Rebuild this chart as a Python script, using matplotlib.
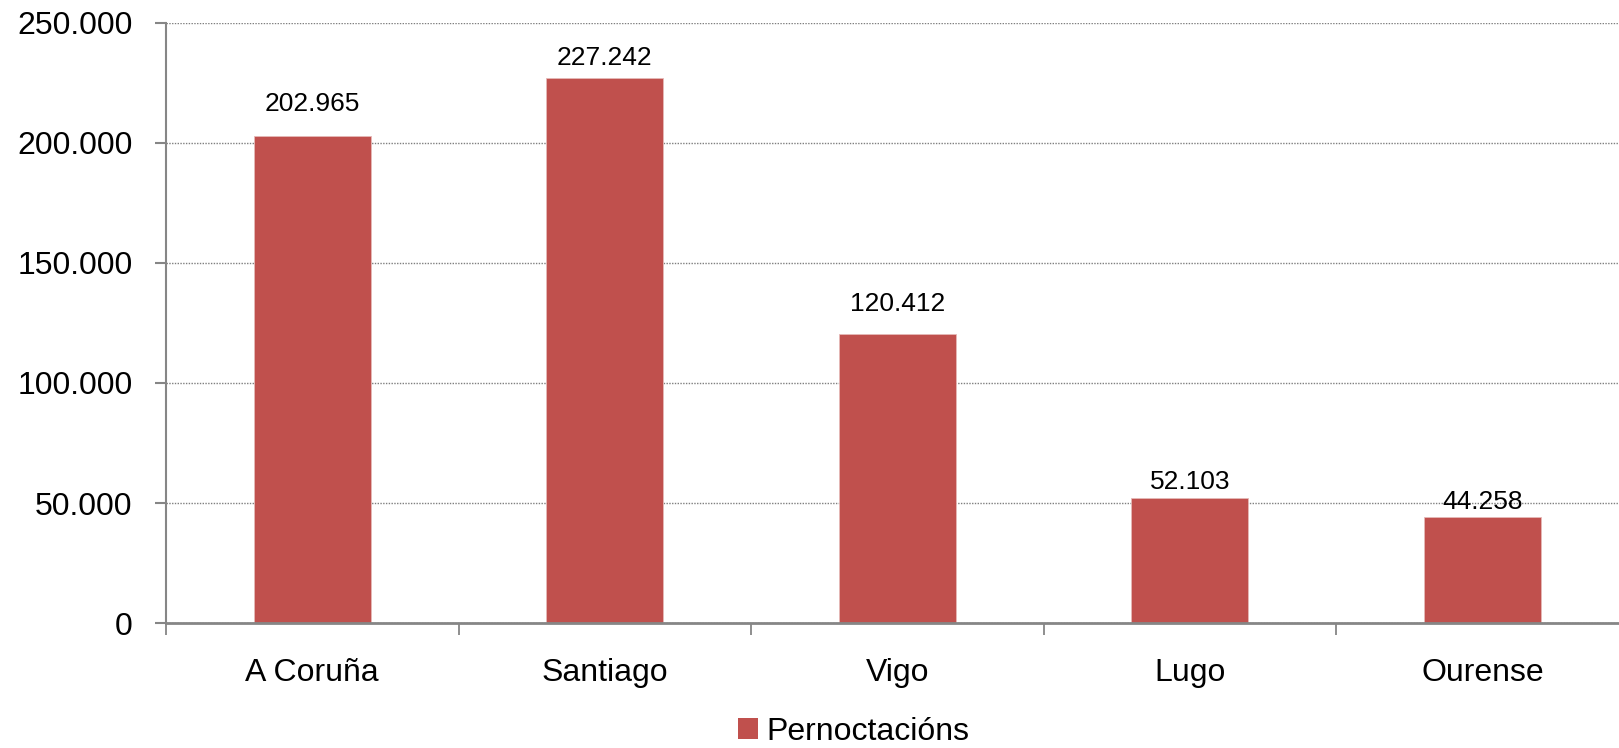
import numpy as np
import matplotlib.pyplot as plt
from matplotlib.patches import Patch
from matplotlib.ticker import FuncFormatter, FixedLocator

# data
cities = ['A Coruña', 'Santiago', 'Vigo', 'Lugo', 'Ourense']
pernoctacions = [202965, 227242, 120412, 52103, 44258]
y_ticks = [0, 50000, 100000, 150000, 200000, 250000]

# label offsets above bar top (points), excel places them unevenly
label_offsets = [18, 9.4, 16.5, 6.5, 5.8]

bar_color = '#C0504D'
axis_color = '#868686'

plt.rcParams['font.family'] = ['Liberation Sans', 'DejaVu Sans']

fig = plt.figure(figsize=(16.19, 7.48), dpi=100)
ax = fig.add_axes([0.1025, 0.1671, 0.9035, 0.8022])

x = np.arange(len(cities))
bars = ax.bar(x, pernoctacions, width=0.4, color=bar_color,
              edgecolor='#E6B9B8', linewidth=0.6, zorder=2)

for xi, v, off in zip(x, pernoctacions, label_offsets):
    ax.annotate('{:,}'.format(v).replace(',', '.'), (xi, v),
                xytext=(0, off), textcoords='offset points',
                ha='center', va='baseline', fontsize=19, color='black')

ax.set_xlim(-0.5, len(cities) - 0.5)
ax.set_ylim(0, 250000)
ax.set_yticks(y_ticks)
ax.yaxis.set_major_formatter(FuncFormatter(lambda v, p: '{:,.0f}'.format(v).replace(',', '.')))

# category labels in the middle, tick marks between the categories
ax.set_xticks(x)
ax.set_xticklabels(cities)
ax.xaxis.set_minor_locator(FixedLocator(np.arange(-0.5, len(cities), 1.0)))
ax.tick_params(axis='x', which='major', length=0, pad=25, labelsize=23)
ax.tick_params(axis='x', which='minor', length=8.5, width=1.3, color=axis_color, direction='out')
ax.tick_params(axis='y', which='major', length=8, width=1.5, color=axis_color,
               direction='out', pad=16, labelsize=23)

ax.yaxis.grid(True, linestyle=(0, (1, 1)), linewidth=1.0, color='#7F7F7F')
ax.set_axisbelow(True)

for s in ['top', 'right']:
    ax.spines[s].set_visible(False)
ax.spines['left'].set_color(axis_color)
ax.spines['left'].set_linewidth(1.5)
ax.spines['bottom'].set_color(axis_color)
ax.spines['bottom'].set_linewidth(2.0)
ax.spines['bottom'].set_zorder(3)

handle = Patch(facecolor=bar_color, edgecolor='none')
fig.legend([handle], ['Pernoctacións'], loc='lower left',
           bbox_to_anchor=(738 / 1619, 1.5 / 748), frameon=False,
           fontsize=23, handlelength=0.62, handleheight=0.62,
           handletextpad=0.28, borderpad=0, borderaxespad=0)

fig.savefig('out.png', dpi=100)
